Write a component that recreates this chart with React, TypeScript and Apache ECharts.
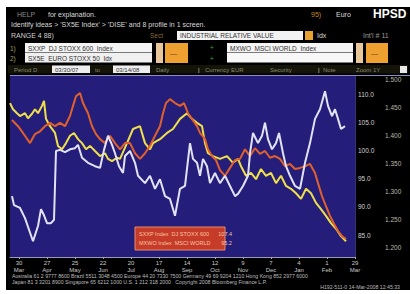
import React, { useEffect, useRef } from "react";
import * as echarts from "echarts";

// x = trading day offset, y = rebased index level
const whiteSeries: [number, number][] = [
  [-7, 91.9], [-5, 90.3], [1, 89.8], [6, 88.0], [14, 83.9], [19, 86.6], [22, 89.6], [25, 88.5], [28, 87.1],
  [32, 87.1], [35, 87.7], [37, 99.9], [41, 100.1], [46, 99.7], [51, 100.2], [56, 100.4], [59, 101.0], [63, 98.7],
  [69, 97.8], [76, 97.2], [81, 96.9], [85, 100.1], [89, 102.6], [93, 101.0], [96, 99.5], [100, 97.2], [104, 96.0],
  [106, 99.0], [111, 99.9], [116, 97.8], [119, 95.5], [126, 94.2], [131, 95.5], [136, 93.2], [141, 94.9],
  [146, 91.9], [151, 91.4], [156, 88.4], [161, 93.2], [166, 93.7], [171, 101.3], [174, 98.5], [178, 97.8],
  [181, 95.5], [184, 98.5], [188, 97.2], [191, 94.2], [196, 96.0], [201, 94.2], [206, 95.5], [211, 93.7],
  [216, 91.9], [219, 92.3], [224, 93.7], [229, 95.5], [231, 99.5], [234, 103.1], [239, 101.3], [243, 102.6],
  [246, 104.9], [249, 102.0], [253, 100.2], [257, 101.3], [260, 103.1], [264, 99.5], [267, 97.2], [271, 95.5],
  [276, 93.7], [281, 93.2], [286, 97.8], [291, 101.3], [296, 105.6], [301, 107.3], [306, 110.5], [309, 107.9],
  [313, 106.1], [316, 107.3], [319, 105.6], [322, 103.8], [326, 104.3],
];

const orangeSeries: [number, number][] = [
  [-7, 105.4], [-1, 104.3], [4, 103.1], [11, 101.3], [16, 102.9], [21, 103.4], [26, 104.3], [31, 104.9],
  [36, 104.3], [41, 104.9], [46, 104.3], [51, 106.1], [54, 107.9], [57, 109.6], [61, 110.2], [64, 108.4],
  [69, 106.6], [73, 104.3], [77, 102.9], [81, 102.0], [86, 101.3], [91, 102.6], [96, 101.3], [101, 100.2],
  [106, 101.3], [111, 101.3], [116, 99.5], [121, 98.5], [126, 99.5], [131, 100.8], [136, 102.6], [141, 104.3],
  [144, 106.6], [147, 108.4], [151, 109.1], [156, 108.4], [161, 107.9], [165, 108.4], [169, 106.6], [173, 105.6],
  [178, 104.3], [181, 103.1], [186, 102.0], [189, 100.2], [193, 99.0], [197, 98.3], [201, 96.5], [206, 95.5],
  [211, 96.9], [216, 98.3], [221, 98.5], [226, 100.2], [231, 99.0], [236, 100.4], [241, 99.4], [246, 99.9],
  [251, 98.7], [256, 99.0], [261, 98.5], [266, 97.2], [271, 97.6], [276, 96.7], [281, 96.9], [286, 97.2],
  [291, 97.6], [296, 96.0], [299, 94.2], [303, 91.9], [307, 90.1], [311, 88.4], [315, 87.0], [319, 85.7],
  [323, 84.8], [327, 84.3],
];

const yellowSeries: [number, number][] = [
  [-9, 108.4], [-6, 107.3], [-2, 106.6], [1, 106.1], [6, 106.6], [9, 105.7], [13, 106.5], [16, 107.3],
  [19, 106.6], [23, 107.9], [25, 108.8], [27, 105.6], [31, 104.3], [36, 103.1], [39, 100.8], [43, 100.2],
  [47, 101.3], [51, 102.6], [55, 103.1], [59, 102.0], [63, 101.3], [67, 100.2], [71, 100.8], [76, 99.9],
  [81, 99.0], [86, 99.5], [89, 98.5], [93, 98.1], [98, 98.7], [101, 98.5], [108, 101.3], [114, 103.8],
  [121, 104.3], [126, 101.3], [131, 100.2], [134, 101.3], [141, 102.0], [148, 103.1], [154, 103.8],
  [161, 105.6], [168, 106.6], [173, 105.6], [178, 104.9], [183, 104.3], [186, 101.3], [189, 99.5], [194, 99.0],
  [201, 98.5], [208, 99.0], [214, 97.8], [219, 98.5], [222, 97.2], [227, 95.5], [232, 96.0], [237, 94.9],
  [242, 96.7], [247, 95.5], [252, 96.0], [257, 94.2], [262, 95.5], [267, 93.7], [272, 93.2], [277, 92.4],
  [282, 91.4], [287, 93.2], [292, 92.4], [297, 90.7], [302, 89.6], [307, 88.4], [312, 87.1], [317, 86.1],
  [322, 84.8], [327, 83.9],
];

const dayLabels = ["30", "27", "25", "22", "20", "17", "14", "12", "9", "7", "4", "1", "29"];
const monthLabels = ["Mar", "Apr", "May", "Jun", "Jul", "Aug", "Sep", "Oct", "Nov", "Dec", "Jan", "Feb", "Mar"];
const legendLines = ["SXXP Index  DJ STOXX 600      107.4", "MXWO Index  MSCI WORLD       95.2"];

const F = "Liberation Sans";

const txt = (x: number, y: number, text: string, fill: string, size = 7, extra: any = {}) => ({
  type: "text",
  z: 5,
  x,
  y,
  style: { text, fill, font: `${size}px ${F}`, verticalAlign: "middle", ...extra },
});
const box = (x: number, y: number, w: number, h: number, fill: string, extra: any = {}) => ({
  type: "rect",
  z: 4,
  shape: { x, y, width: w, height: h },
  style: { fill, ...extra },
});

export default function App() {
  const ref = useRef<HTMLDivElement>(null);
  useEffect(() => {
    const chart = echarts.init(ref.current!, null, { renderer: "svg" });
    chart.setOption({
      animation: false,
      backgroundColor: "#ffffff",
      grid: {
        left: 10,
        top: 76,
        width: 345,
        height: 181,
        show: true,
        backgroundColor: "#241e7a",
        borderWidth: 0,
        z: 1,
      },
      xAxis: {
        type: "value",
        min: -9,
        max: 336,
        minInterval: 28,
        maxInterval: 28,
        axisLine: { show: true, lineStyle: { color: "#9a9ab8", width: 1 } },
        axisTick: { show: true, length: 2, lineStyle: { color: "#aaaaaa" } },
        splitLine: { show: true, lineStyle: { color: "#4b48a2", width: 0.7 } },
        axisLabel: {
          showMinLabel: false,
          margin: 2,
          color: "#c8c8c8",
          fontSize: 6,
          lineHeight: 7,
          fontFamily: F,
          formatter: (v: number) => {
            const i = Math.round(v / 28);
            return dayLabels[i] !== undefined ? `${dayLabels[i]}\n${monthLabels[i]}` : "";
          },
        },
      },
      yAxis: [
        {
          type: "value",
          position: "right",
          min: 81.1,
          max: 113.2,
          minInterval: 5,
          maxInterval: 5,
          axisLine: { show: true, lineStyle: { color: "#6a6a9a", width: 1 } },
          axisTick: { show: false },
          splitLine: { show: true, lineStyle: { color: "#4b48a2", width: 0.7 } },
          axisLabel: {
            showMinLabel: false,
            showMaxLabel: false,
            margin: 3,
            color: "#d0d0d0",
            fontSize: 6.5,
            fontFamily: F,
            formatter: (v: number) => v.toFixed(1),
          },
        },
        {
          type: "value",
          position: "right",
          offset: 27,
          min: 1.1839,
          max: 1.5071,
          minInterval: 0.05,
          maxInterval: 0.05,
          axisLine: { show: false },
          axisTick: { show: false },
          splitLine: { show: false },
          axisLabel: {
            showMinLabel: false,
            showMaxLabel: false,
            margin: 3,
            color: "#b8b8a8",
            fontSize: 6.5,
            fontFamily: F,
            formatter: (v: number) => v.toFixed(3),
          },
        },
      ],
      series: [
        {
          type: "line",
          data: yellowSeries,
          showSymbol: false,
          lineStyle: { color: "#efe04a", width: 2 },
          z: 3,
        },
        {
          type: "line",
          data: orangeSeries,
          showSymbol: false,
          lineStyle: { color: "#e0602c", width: 2 },
          z: 4,
        },
        {
          type: "line",
          data: whiteSeries,
          showSymbol: false,
          lineStyle: { color: "#e2e2f6", width: 2 },
          z: 5,
        },
      ],
      graphic: [
        { type: "rect", z: -10, shape: { x: 6, y: 7, width: 404, height: 283 }, style: { fill: "#000000" } },
        // row 1
        txt(17, 14, "HELP", "#8a8a8a", 7),
        txt(48, 14, "for explanation.", "#dcdcdc", 7),
        txt(311, 14, "95)", "#c98a2a", 7),
        txt(336, 14, "Euro", "#dcdcdc", 7),
        txt(373, 14, "HPSD", "#ffffff", 9, { fontWeight: "bold", font: `bold 9px ${F}` }),
        // row 2
        txt(11, 24, "Identify ideas > 'SX5E Index' > 'DISE' and 8 profile in 1 screen.", "#d8d8d8", 7),
        // row 3
        txt(11, 35, "RANGE 4 88)", "#cfcfcf", 7),
        txt(150, 35, "Sect", "#8a6a2a", 6.5),
        box(177, 31, 126, 9, "#f2f2f2"),
        txt(180, 35.5, "INDUSTRIAL RELATIVE VALUE", "#333333", 6.5),
        box(305, 31, 8, 9, "#e8a030"),
        txt(317, 35, "Idx", "#dcdcdc", 7),
        txt(363, 35, "Int'l # 11", "#9a9a9a", 7),
        // rows 4-5
        txt(10, 48, "1)", "#a0a060", 6.5),
        txt(10, 58, "2)", "#a0a060", 6.5),
        box(25, 43, 127, 9.5, "#f4f4f4"),
        box(25, 53, 127, 9.5, "#f0f0f0"),
        txt(28, 48, "SXXP  DJ STOXX 600  Index", "#333333", 6.5),
        txt(28, 58, "SX5E  EURO STOXX 50  Idx", "#333333", 6.5),
        box(156, 43, 7, 20, "#e8c89a"),
        box(165, 43, 23, 20, "#eea030"),
        txt(170, 53, "—", "#7a4a10", 7),
        txt(210, 47, "+", "#3caa3c", 6.5),
        txt(210, 58, "+", "#3caa3c", 6.5),
        box(227, 43, 126, 9.5, "#f4f4f4"),
        box(227, 53, 126, 9.5, "#f8f8f8"),
        txt(230, 48, "MXWO  MSCI WORLD  Index", "#333333", 6.5),
        box(356, 43, 7, 20, "#e8c89a"),
        box(366, 43, 22, 20, "#eea030"),
        txt(371, 53, "—", "#7a4a10", 7),
        // row 6
        box(8, 65, 400, 8.5, "#141408"),
        txt(14, 69.5, "Period D", "#8a8a70", 6),
        box(52, 65.5, 38, 7.5, "#eeeeee"),
        txt(55, 69.5, "03/30/07", "#333333", 6),
        txt(95, 69.5, "to", "#8a8a70", 6),
        box(113, 65.5, 37, 7.5, "#eeeeee"),
        txt(116, 69.5, "03/14/08", "#333333", 6),
        txt(156, 69.5, "Daily", "#8a8a70", 6),
        txt(198, 69.5, "|", "#dddddd", 6),
        txt(205, 69.5, "Currency EUR", "#8a8a70", 6),
        txt(270, 69.5, "Security", "#8a8a70", 6),
        txt(318, 69.5, "|", "#dddddd", 6),
        txt(323, 69.5, "Note", "#8a8a70", 6),
        txt(356, 69.5, "Zoom 1Y", "#8a8a70", 6),
        box(400, 66, 7, 7, "#e8e8e8"),
        { type: "line", z: 5, shape: { x1: 10, y1: 75.5, x2: 410, y2: 75.5 }, style: { stroke: "#8c8cc8", lineWidth: 1 } },
        // legend box
        box(135, 227, 90, 23, "#c63c28", { stroke: "#e88a6a", lineWidth: 1 }),
        txt(139, 234, legendLines[0], "#f6c4a4", 5.5),
        txt(139, 243, legendLines[1], "#f6c4a4", 5.5),
        // footer
        txt(12, 275.5, "Australia 61 2 9777 8600 Brazil 5511 3048 4500 Europe 44 20 7330 7500 Germany 49 69 9204 1210 Hong Kong 852 2977 6000", "#bdbdbd", 5.2),
        txt(12, 281.5, "Japan 81 3 3201 8900 Singapore 65 6212 1000 U.S. 1 212 318 2000   Copyright 2008 Bloomberg Finance L.P.", "#bdbdbd", 5.2),
        txt(400, 287, "H192-511-0 14-Mar-2008 12:45:33", "#bdbdbd", 5.2, { align: "right" }),
      ],
    });
    return () => chart.dispose();
  }, []);
  return (
    <div
      ref={ref}
      style={{ position: "absolute", left: 0, top: 0, width: 410, height: 294, background: "#ffffff" }}
    />
  );
}
